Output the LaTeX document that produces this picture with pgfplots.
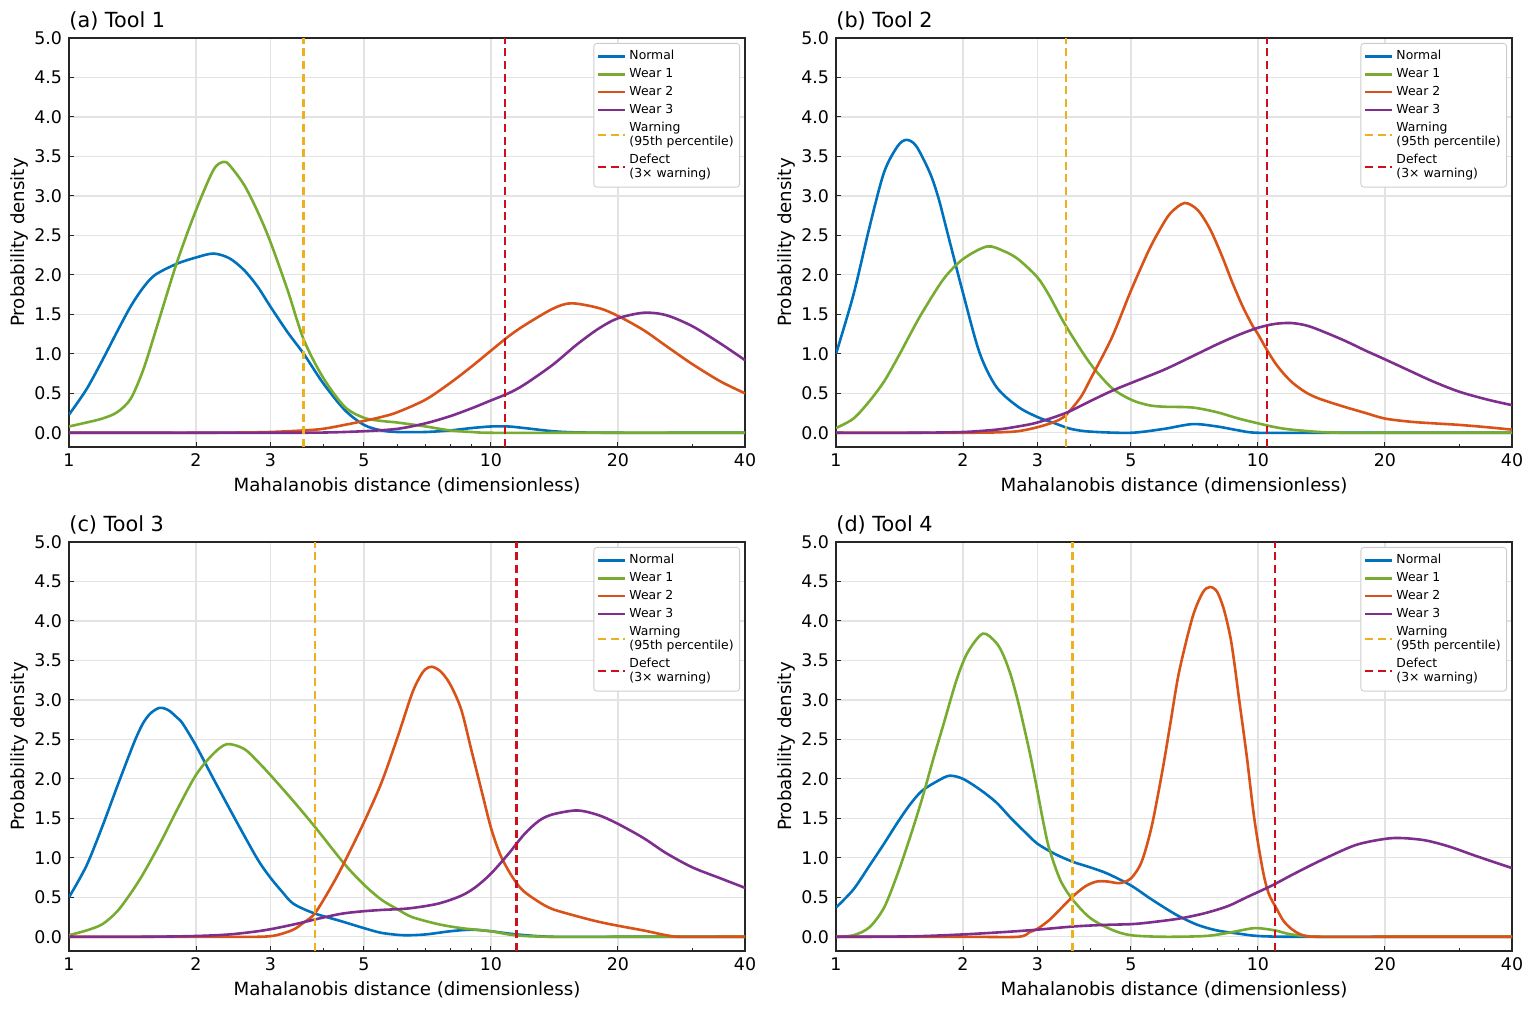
\documentclass[border=0pt]{standalone}
\usepackage{fontspec}
\setmainfont{DejaVu Sans}
\usepackage{pgfplots}
\pgfplotsset{compat=1.18}
\definecolor{cNormal}{HTML}{0072BD}
\definecolor{cWear1}{HTML}{77AC30}
\definecolor{cWear2}{HTML}{D95319}
\definecolor{cWear3}{HTML}{7E2F8E}
\definecolor{cWarn}{HTML}{EDB120}
\definecolor{cDefect}{RGB}{204,16,30}
\newcommand\twol[2]{\vbox{\baselineskip=7pt\lineskiplimit=-10pt\hbox{#1}\hbox{#2}}}
\tikzset{
  curve/.style={line width=1.3pt, smooth},
  warnline/.style={cWarn, dash pattern=on 4pt off 2.3pt, line width=1.3pt},
  defectline/.style={cDefect, dash pattern=on 4pt off 2.3pt, line width=1.3pt},
}
\pgfplotsset{
  every axis/.append style={
    scale only axis, width=338pt, height=204.5pt,
    xmin=1, xmax=40, ymin=-0.18, ymax=5,
    xtick={1,2,3,5,10,20,40}, xticklabels={1,2,3,5,10,20,40},
    minor xtick={4,6,7,8,9,30},
    ytick={0,0.5,1,1.5,2,2.5,3,3.5,4,4.5,5},
    yticklabel={\pgfmathprintnumber[fixed,fixed zerofill,precision=1,assume math mode=true]{\tick}},
    xtick pos=left, ytick pos=left, tick align=inside,
    major tick length=2.5pt, minor tick length=1.5pt,
    tick style={black!85, line width=0.5pt},
    axis line style={black!85, line width=0.6pt},
    grid=major, major grid style={black!11, line width=0.6pt},
    ticklabel style={font=\fontsize{8.7}{10}\selectfont},
    label style={font=\fontsize{9.1}{11}\selectfont},
    xlabel={Mahalanobis distance (dimensionless)},
    ylabel={Probability density},
    xlabel shift=-1.5pt, ylabel shift=-4pt,
    title style={at={(0,1)}, anchor=base west, yshift=-1pt, inner sep=0pt, font=\fontsize{10.4}{12}\selectfont},
    legend cell align=left,
    legend image code/.code={\draw[##1] (0pt,0pt) -- (13.5pt,0pt);},
    legend style={at={(1,1)}, anchor=north east, xshift=-2.5pt, yshift=-2.5pt,
      draw=black!20, rounded corners=1.5pt, fill=white,
      font=\fontsize{6.2}{6.6}\selectfont, inner xsep=1.5pt, inner ysep=2pt,
      row sep=-0.2pt, nodes={inner sep=1.5pt}},
  },
}
\begin{document}
\begin{tikzpicture}
% ---------------- (a) ----------------
\begin{axis}[xmode=log, at={(34.5pt,485pt)}, anchor=north west, title={(a) Tool 1}]
\addplot[curve, cNormal] coordinates {(1,0.23) (1.1,0.55) (1.2,0.92) (1.3,1.28) (1.4,1.6) (1.5,1.84) (1.6,2.0) (1.8,2.14) (2,2.22) (2.2,2.27) (2.4,2.21) (2.6,2.06) (2.8,1.85) (3,1.6) (3.3,1.27) (3.6,1.0) (4,0.63) (4.5,0.29) (5,0.1) (5.5,0.03) (6,0.01) (7,0.01) (8,0.03) (9,0.06) (10,0.08) (11,0.08) (12,0.06) (14,0.02) (16,0.005) (20,0) (30,0) (40,0)};
\addlegendentry{Normal}
\addplot[curve, cWear1] coordinates {(1,0.08) (1.1,0.13) (1.2,0.18) (1.3,0.26) (1.4,0.43) (1.5,0.8) (1.6,1.27) (1.8,2.15) (2,2.82) (2.2,3.33) (2.32,3.43) (2.4,3.39) (2.6,3.14) (2.8,2.8) (3,2.42) (3.3,1.8) (3.6,1.18) (4,0.7) (4.5,0.33) (5,0.19) (5.5,0.15) (6,0.13) (7,0.08) (8,0.03) (9,0.01) (10,0) (15,0) (20,0) (30,0) (40,0)};
\addlegendentry{Wear 1}
\addplot[curve, cWear2] coordinates {(1,0) (1.5,0) (2,0) (2.5,0.003) (3,0.01) (3.6,0.03) (4,0.05) (4.5,0.1) (5,0.15) (5.5,0.2) (6,0.26) (7,0.42) (8,0.63) (9,0.84) (10,1.04) (11,1.22) (12,1.36) (14,1.57) (15.5,1.64) (18,1.58) (20,1.48) (23,1.3) (26,1.1) (30,0.87) (35,0.65) (40,0.5)};
\addlegendentry{Wear 2}
\addplot[curve, cWear3] coordinates {(1,0) (2,0) (3,0) (4,0.003) (5,0.02) (6,0.05) (7,0.12) (8,0.21) (9,0.31) (10,0.41) (11,0.5) (12,0.61) (14,0.86) (16,1.12) (18,1.32) (20,1.45) (23,1.52) (26,1.49) (30,1.35) (35,1.13) (40,0.92)};
\addlegendentry{Wear 3}
\addplot[warnline] coordinates {(3.6,-0.18) (3.6,5)};
\addlegendentry{\twol{Warning}{(95th percentile)}}
\addplot[defectline] coordinates {(10.8,-0.18) (10.8,5)};
\addlegendentry{\twol{Defect}{(3× warning)}}
\end{axis}
% ---------------- (b) ----------------
\begin{axis}[xmode=log, at={(418pt,485pt)}, anchor=north west, title={(b) Tool 2}]
\addplot[curve, cNormal] coordinates {(1,1.0) (1.1,1.75) (1.2,2.6) (1.3,3.3) (1.4,3.63) (1.47,3.71) (1.55,3.63) (1.67,3.29) (1.75,2.97) (1.83,2.57) (2,1.77) (2.19,1.01) (2.4,0.58) (2.7,0.33) (3,0.2) (3.3,0.12) (3.6,0.05) (4,0.015) (5,0) (6,0.05) (7,0.11) (8,0.08) (9,0.03) (10,0) (14,0) (20,0) (30,0) (40,0)};
\addlegendentry{Normal}
\addplot[curve, cWear1] coordinates {(1,0.06) (1.1,0.18) (1.2,0.4) (1.3,0.65) (1.4,0.95) (1.5,1.25) (1.6,1.52) (1.8,1.95) (2,2.2) (2.28,2.36) (2.5,2.3) (2.7,2.2) (3,1.97) (3.2,1.74) (3.5,1.36) (4,0.88) (4.5,0.57) (5,0.42) (5.5,0.35) (6,0.33) (7,0.32) (8,0.26) (9,0.18) (10,0.12) (11,0.07) (12,0.04) (14,0.01) (16,0) (20,0) (30,0) (40,0)};
\addlegendentry{Wear 1}
\addplot[curve, cWear2] coordinates {(1,0) (1.5,0) (2,0) (2.4,0.005) (2.7,0.02) (3,0.07) (3.3,0.14) (3.5,0.22) (3.8,0.45) (4,0.67) (4.5,1.2) (5,1.8) (5.5,2.3) (5.85,2.57) (6.2,2.78) (6.7,2.91) (7.2,2.82) (7.7,2.58) (8.2,2.25) (8.7,1.9) (9.2,1.6) (9.7,1.36) (10,1.25) (10.5,1.05) (11,0.88) (11.5,0.75) (12.1,0.63) (13,0.51) (14,0.43) (16,0.33) (18,0.25) (20,0.18) (23,0.14) (26,0.12) (30,0.1) (35,0.07) (40,0.04)};
\addlegendentry{Wear 2}
\addplot[curve, cWear3] coordinates {(1,0) (1.5,0) (2,0.01) (2.4,0.04) (2.7,0.08) (3,0.13) (3.5,0.25) (4,0.4) (4.5,0.53) (5,0.63) (6,0.8) (7,0.97) (8,1.12) (9,1.24) (10,1.33) (11,1.38) (12,1.39) (13,1.36) (14,1.3) (16,1.17) (18,1.04) (20,0.93) (23,0.78) (26,0.65) (30,0.52) (35,0.42) (40,0.35)};
\addlegendentry{Wear 3}
\addplot[warnline] coordinates {(3.51,-0.18) (3.51,5)};
\addlegendentry{\twol{Warning}{(95th percentile)}}
\addplot[defectline] coordinates {(10.5,-0.18) (10.5,5)};
\addlegendentry{\twol{Defect}{(3× warning)}}
\end{axis}
% ---------------- (c) ----------------
\begin{axis}[xmode=log, at={(34.5pt,233pt)}, anchor=north west, title={(c) Tool 3}]
\addplot[curve, cNormal] coordinates {(1,0.5) (1.1,0.9) (1.2,1.4) (1.3,1.9) (1.4,2.35) (1.45,2.55) (1.5,2.71) (1.56,2.83) (1.64,2.9) (1.72,2.87) (1.8,2.78) (1.86,2.7) (2,2.42) (2.2,2.0) (2.5,1.45) (2.8,0.98) (3,0.75) (3.2,0.57) (3.4,0.42) (3.8,0.3) (4.4,0.2) (5,0.11) (5.5,0.05) (6.2,0.02) (7,0.03) (8,0.07) (9,0.09) (10,0.07) (11.5,0.03) (14,0) (20,0) (30,0) (40,0)};
\addlegendentry{Normal}
\addplot[curve, cWear1] coordinates {(1,0.02) (1.1,0.08) (1.2,0.16) (1.3,0.32) (1.4,0.55) (1.5,0.8) (1.65,1.2) (1.8,1.6) (2,2.05) (2.2,2.32) (2.37,2.44) (2.6,2.38) (2.8,2.22) (3,2.05) (3.4,1.72) (3.83,1.39) (4.5,0.92) (5,0.66) (5.5,0.47) (6,0.35) (6.5,0.25) (7.5,0.16) (8.5,0.11) (10,0.07) (11,0.03) (12,0.01) (14,0) (20,0) (30,0) (40,0)};
\addlegendentry{Wear 1}
\addplot[curve, cWear2] coordinates {(1,0) (2,0) (2.8,0) (3.1,0.02) (3.4,0.09) (3.6,0.18) (3.83,0.3) (4.2,0.65) (4.5,0.95) (5,1.45) (5.5,1.95) (6,2.52) (6.5,3.08) (6.8,3.3) (7.0,3.39) (7.25,3.42) (7.6,3.36) (8,3.2) (8.5,2.88) (9,2.35) (9.5,1.85) (10,1.38) (10.5,1.05) (11,0.84) (11.5,0.68) (12,0.57) (13,0.44) (14,0.35) (16,0.26) (18,0.19) (20,0.14) (23,0.08) (26,0.02) (28,0) (35,0) (40,0)};
\addlegendentry{Wear 2}
\addplot[curve, cWear3] coordinates {(1,0) (1.5,0) (2,0.01) (2.4,0.03) (2.8,0.07) (3.1,0.11) (3.5,0.17) (3.83,0.22) (4.4,0.29) (4.9,0.32) (5.5,0.34) (6.4,0.36) (7.5,0.42) (8.5,0.52) (9.2,0.63) (10,0.8) (11,1.05) (12,1.3) (13,1.47) (14,1.55) (16,1.6) (18,1.54) (20,1.43) (23,1.25) (26,1.06) (30,0.88) (35,0.74) (40,0.62)};
\addlegendentry{Wear 3}
\addplot[warnline] coordinates {(3.83,-0.18) (3.83,5)};
\addlegendentry{\twol{Warning}{(95th percentile)}}
\addplot[defectline] coordinates {(11.5,-0.18) (11.5,5)};
\addlegendentry{\twol{Defect}{(3× warning)}}
\end{axis}
% ---------------- (d) ----------------
\begin{axis}[xmode=log, at={(418pt,233pt)}, anchor=north west, title={(d) Tool 4}]
\addplot[curve, cNormal] coordinates {(1,0.37) (1.1,0.6) (1.2,0.9) (1.3,1.18) (1.4,1.45) (1.5,1.68) (1.6,1.85) (1.75,1.98) (1.86,2.04) (2,2.0) (2.2,1.86) (2.4,1.7) (2.6,1.5) (2.8,1.33) (3,1.18) (3.3,1.05) (3.64,0.95) (4,0.88) (4.4,0.8) (5,0.65) (5.5,0.5) (6,0.37) (6.5,0.26) (7.2,0.15) (8,0.08) (9,0.04) (10,0.01) (12,0) (20,0) (30,0) (40,0)};
\addlegendentry{Normal}
\addplot[curve, cWear1] coordinates {(1,0) (1.1,0.02) (1.2,0.12) (1.3,0.37) (1.4,0.8) (1.5,1.27) (1.6,1.75) (1.7,2.25) (1.8,2.7) (1.93,3.25) (2.05,3.6) (2.23,3.84) (2.4,3.72) (2.5,3.55) (2.6,3.3) (2.7,2.98) (2.8,2.62) (2.9,2.25) (3,1.85) (3.1,1.45) (3.2,1.12) (3.4,0.72) (3.64,0.47) (4,0.24) (4.5,0.09) (5,0.02) (6,0) (7.5,0.01) (8.5,0.05) (9.5,0.1) (10,0.11) (11,0.08) (12,0.03) (14,0) (20,0) (30,0) (40,0)};
\addlegendentry{Wear 1}
\addplot[curve, cWear2] coordinates {(1,0) (2,0) (2.7,0) (2.88,0.06) (3,0.1) (3.2,0.21) (3.4,0.35) (3.64,0.51) (3.9,0.64) (4.15,0.7) (4.4,0.7) (4.7,0.68) (5,0.74) (5.3,0.95) (5.6,1.4) (5.94,2.11) (6.2,2.7) (6.5,3.35) (7,4.05) (7.4,4.36) (7.7,4.43) (8,4.37) (8.3,4.15) (8.6,3.8) (8.8,3.45) (9,3.05) (9.4,2.3) (9.8,1.5) (10.26,0.85) (10.6,0.55) (11.06,0.36) (11.5,0.2) (12,0.1) (12.5,0.04) (13,0.01) (14,0) (20,0) (30,0) (40,0)};
\addlegendentry{Wear 2}
\addplot[curve, cWear3] coordinates {(1,0) (1.5,0.005) (2,0.03) (2.5,0.06) (3,0.09) (3.64,0.13) (4.3,0.15) (5,0.16) (5.5,0.18) (6.5,0.23) (7.5,0.3) (8.5,0.39) (9.4,0.5) (10.8,0.65) (12,0.78) (14,0.96) (17,1.16) (20,1.24) (22,1.25) (25,1.22) (28.5,1.14) (33,1.02) (40,0.87)};
\addlegendentry{Wear 3}
\addplot[warnline] coordinates {(3.64,-0.18) (3.64,5)};
\addlegendentry{\twol{Warning}{(95th percentile)}}
\addplot[defectline] coordinates {(10.97,-0.18) (10.97,5)};
\addlegendentry{\twol{Defect}{(3× warning)}}
\end{axis}
\pgfresetboundingbox
\path (0pt,0pt) rectangle (766.5pt,504pt);
\end{tikzpicture}
\end{document}
